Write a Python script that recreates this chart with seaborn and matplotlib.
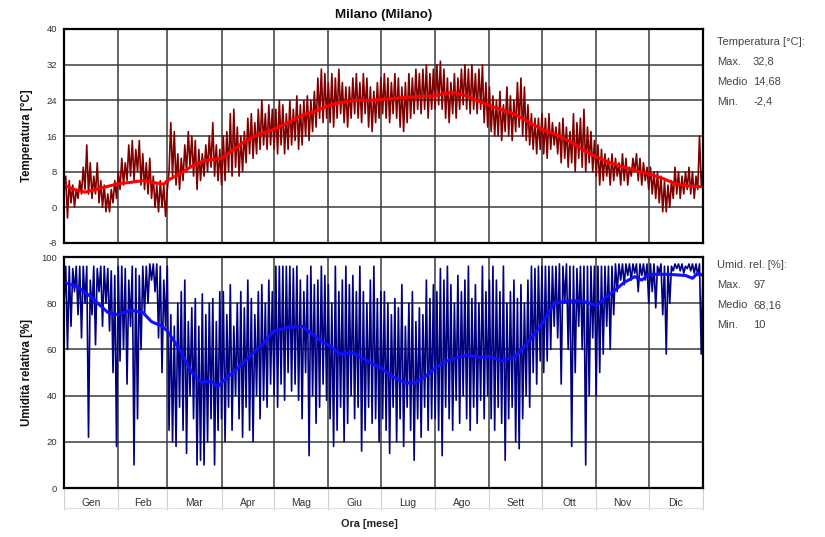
import numpy as np
import pandas as pd
import matplotlib
matplotlib.use("Agg")
import matplotlib.pyplot as plt
import seaborn as sns
from matplotlib.transforms import blended_transform_factory

# ---------------------------------------------------------------------------
# Data: Milano, hourly climate record summarised as alternating daily
# lows / highs (two days per pair) and the running mean of each quantity.
# ---------------------------------------------------------------------------
months = ["Gen", "Feb", "Mar", "Apr", "Mag", "Giu",
          "Lug", "Ago", "Sett", "Ott", "Nov", "Dic"]
month_start_day = [0, 31, 59, 90, 120, 151, 181, 212, 243, 273, 304, 334, 365]

# Temperature [°C]
t_low = [
    3, -2.4, 1, 0, 2, 3, 4, 3, 2, 3, 1, 0, -1, -1, 1, 2,            # Gen
    4, 5, 6, 7, 6, 8, 5, 4, 3, 2, 0, -1, 0, -2,                     # Feb
    8, 7, 5, 4, 6, 8, 9, 7, 4, 6, 7, 8, 9, 7, 6,                    # Mar
    5, 6, 8, 7, 9, 7, 8, 10, 12, 11, 12, 13, 14, 13, 14,            # Apr
    13, 12, 14, 12, 13, 14, 15, 13, 14, 16, 15, 17, 18, 20, 19, 20,  # Mag
    19, 18, 20, 21, 19, 18, 20, 21, 20, 19, 21, 18, 17, 19, 20,     # Giu
    21, 20, 19, 21, 20, 18, 17, 19, 20, 21, 22, 21, 22, 20, 22,     # Lug
    22, 23, 22, 20, 19, 21, 20, 22, 23, 22, 21, 22, 21, 22, 19, 18,  # Ago
    17, 16, 16, 15, 17, 16, 15, 17, 18, 16, 15, 14, 13, 12, 13,     # Sett
    12, 11, 13, 14, 12, 10, 11, 9, 10, 8, 11, 9, 8, 10, 8,          # Ott
    7, 5, 6, 7, 5, 6, 7, 5, 6, 5, 7, 8, 6, 5, 6,                    # Nov
    4, 3, 2, 1, -1, -1, 0, 2, 3, 2, 3, 4, 3, 2, 4, 5,               # Dic
]
t_high = [
    7, 6, 5, 4, 6, 9, 14, 10, 7, 10, 6, 5, 3, 4, 6, 8,
    11, 10, 14, 15, 13, 15, 12, 10, 11, 7, 5, 6, 5, 4,
    19, 17, 12, 11, 14, 17, 16, 15, 13, 12, 14, 16, 19, 14, 13,
    16, 17, 21, 22, 18, 16, 17, 20, 21, 19, 22, 24, 21, 23, 22,
    22, 24, 23, 21, 24, 22, 25, 23, 24, 25, 24, 26, 29, 31, 30, 28,
    30, 29, 31, 28, 27, 27, 29, 30, 28, 30, 29, 27, 26, 28, 29,
    30, 29, 28, 30, 29, 27, 28, 30, 29, 31, 30, 31, 32, 30, 31,
    32, 32.8, 31, 29, 28, 30, 29, 31, 32, 31, 32, 30, 31, 32, 28, 27,
    25, 24, 26, 23, 27, 25, 24, 28, 29, 27, 23, 21, 20, 20, 21,
    20, 21, 19, 18, 19, 20, 18, 17, 21, 19, 20, 22, 18, 17, 15,
    14, 13, 12, 11, 12, 11, 10, 12, 11, 9, 11, 12, 11, 10, 9,
    9, 8, 8, 7, 6, 5, 6, 9, 8, 7, 8, 9, 8, 7, 16, 9,
]
t_mean_day = [0, 6, 12, 20, 31, 38, 45, 52, 57, 59, 66, 73, 80, 90, 97, 104,
              112, 120, 128, 135, 143, 151, 158, 166, 174, 181, 190, 200, 212,
              218, 222, 230, 237, 243, 251, 258, 266, 273, 280, 288, 296, 304,
              312, 320, 327, 334, 342, 349, 356, 365]
t_mean = [5, 4, 3.4, 4.2, 5.3, 5.6, 6, 5.5, 5.2, 6, 7.5, 9.2, 10.5, 11, 13, 15,
          16.5, 17.5, 19, 20.5, 21.5, 22.8, 23.5, 24, 24, 24.2, 24.5, 24.8, 25,
          25.6, 25.8, 25, 23.8, 22.8, 21.8, 20.8, 19, 17.5, 16.5, 15, 13, 11.3,
          10, 9, 8.2, 7.5, 6.5, 5.3, 4.8, 4.6]

# Relative humidity [%]
rh_low = [
    80, 60, 70, 85, 75, 65, 80, 22, 75, 62, 85, 70, 80, 68, 50, 18,
    55, 60, 45, 70, 10, 30, 60, 75, 80, 90, 85, 65, 50, 70,
    25, 20, 18, 35, 25, 15, 40, 30, 10, 12, 10, 20, 30, 10, 25,
    30, 20, 35, 25, 40, 30, 22, 35, 25, 20, 40, 30, 38, 35, 45,
    40, 35, 45, 38, 50, 42, 45, 38, 30, 50, 14, 40, 28, 35, 45, 38,
    30, 18, 25, 35, 20, 28, 40, 30, 35, 16, 25, 35, 28, 30, 20,
    30, 25, 15, 35, 20, 30, 18, 35, 25, 12, 30, 22, 35, 25, 30,
    30, 25, 14, 35, 30, 25, 38, 28, 40, 30, 25, 35, 28, 38, 30, 40,
    30, 25, 35, 28, 12, 30, 35, 20, 17, 30, 40, 35, 50, 45, 55,
    50, 55, 60, 70, 65, 45, 80, 60, 18, 50, 70, 60, 10, 40, 65,
    40, 50, 58, 70, 60, 75, 85, 90, 88, 92, 90, 93, 85, 92, 90,
    80, 85, 78, 93, 75, 58, 80, 94, 95, 94, 93, 95, 94, 93, 92, 58,
]
rh_high = [
    96, 96, 95, 96, 96, 96, 96, 90, 96, 95, 96, 96, 95, 94, 92, 96,
    96, 95, 90, 96, 95, 92, 96, 96, 97, 97, 97, 96, 90, 96,
    75, 70, 80, 85, 90, 72, 78, 82, 70, 84, 75, 80, 82, 72, 85,
    85, 75, 88, 70, 80, 85, 78, 90, 82, 75, 85, 88, 80, 90, 85,
    96, 96, 96, 96, 96, 95, 96, 90, 85, 92, 96, 88, 90, 96, 92, 88,
    80, 96, 85, 90, 96, 88, 92, 85, 96, 85, 80, 90, 96, 82, 85,
    85, 80, 75, 82, 78, 88, 70, 80, 85, 72, 78, 75, 90, 82, 88,
    85, 95, 90, 96, 88, 80, 92, 85, 90, 96, 82, 88, 80, 96, 85, 90,
    96, 90, 85, 96, 80, 85, 90, 82, 88, 80, 90, 96, 95, 96, 96,
    96, 96, 96, 96, 97, 96, 97, 96, 96, 95, 96, 96, 96, 96, 96,
    96, 96, 96, 96, 96, 97, 97, 97, 97, 97, 97, 97, 97, 97, 97,
    97, 97, 96, 97, 96, 96, 96, 97, 97, 97, 96, 97, 97, 97, 97, 96,
]
rh_mean_day = [0, 8, 15, 25, 31, 38, 45, 50, 56, 59, 66, 73, 78, 84, 88, 90,
               98, 106, 113, 120, 128, 136, 143, 148, 151, 158, 165, 173, 181,
               188, 195, 200, 206, 212, 220, 230, 238, 243, 250, 258, 265, 273,
               280, 288, 296, 304, 312, 320, 326, 330, 334, 345, 355, 359, 362,
               365]
rh_mean = [89, 87, 83, 76, 75, 77, 76, 72, 70, 68, 60, 50, 46, 46, 44, 45.5,
           51, 57, 62, 68, 69.5, 70, 66, 63, 62, 58, 58.5, 55, 52, 48, 45.5,
           45.5, 48, 52, 55.5, 57.5, 56.5, 57, 55, 57, 63, 71, 80, 81, 81, 79,
           84, 89, 91.5, 90, 92.5, 92.5, 92, 90.8, 93, 92]

temp_stats = [("Max.", "32,8"), ("Medio", "14,68"), ("Min.", "-2,4")]
rh_stats = [("Max.", "97"), ("Medio", "68,16"), ("Min.", "10")]


def daily_swings(lows, highs):
    """Interleave lows and highs into one day-by-day series."""
    vals = np.empty(2 * len(lows))
    vals[0::2] = lows
    vals[1::2] = highs
    return pd.DataFrame({"day": np.arange(len(vals)), "value": vals})


temp_df = daily_swings(t_low, t_high)
rh_df = daily_swings(rh_low, rh_high)

# ---------------------------------------------------------------------------
sns.set_theme(style="white")
plt.rcParams["font.family"] = ["Liberation Sans", "DejaVu Sans"]
plt.rcParams["axes.unicode_minus"] = False

W, H = 825, 537
fig = plt.figure(figsize=(W / 100, H / 100), dpi=100)
fig.patch.set_facecolor("white")


def px_axes(left, top, right, bottom):
    return fig.add_axes([left / W, 1 - bottom / H, (right - left) / W, (bottom - top) / H])


ax_t = px_axes(64, 29, 703, 243)
ax_h = px_axes(64, 257, 703, 488)

sns.lineplot(data=temp_df, x="day", y="value", ax=ax_t, color="#800000",
             lw=1.2, estimator=None)
sns.lineplot(x=t_mean_day, y=t_mean, ax=ax_t, color="#ff0000", lw=2.2,
             estimator=None)

sns.lineplot(data=rh_df, x="day", y="value", ax=ax_h, color="#000080",
             lw=1.2, estimator=None)
sns.lineplot(x=rh_mean_day, y=rh_mean, ax=ax_h, color="#1010ff", lw=2.2,
             estimator=None)

month_mid = [(a + b) / 2 for a, b in zip(month_start_day[:-1], month_start_day[1:])]

for ax, ylim, step in ((ax_t, (-8, 40), 8), (ax_h, (0, 100), 20)):
    ax.set_xlim(0, 365)
    ax.set_ylim(*ylim)
    ax.set_yticks(np.arange(ylim[0], ylim[1] + 1, step))
    ax.set_xticks(month_start_day)
    ax.grid(True, which="major", color="#3a3a3a", lw=1.1)
    ax.set_axisbelow(True)
    for sp in ax.spines.values():
        sp.set_color("black")
        sp.set_linewidth(1.6)
    ax.tick_params(axis="y", length=0, pad=5, labelsize=6.8, labelcolor="#333333")
    ax.set_xlabel("")

ax_t.tick_params(axis="x", length=0, labelbottom=False)

# Month band under the humidity panel
ax_h.tick_params(axis="x", which="major", bottom=True, length=16, width=0.8,
                 color="#d0d0d0", direction="out", labelbottom=False)
ax_h.set_xticks(month_mid, minor=True)
ax_h.set_xticklabels(months, minor=True)
ax_h.tick_params(axis="x", which="minor", bottom=True, length=0, pad=7.5,
                 labelsize=7.4, labelcolor="#333333")
trans = blended_transform_factory(ax_h.transData, ax_h.transAxes)
ax_h.plot([0, 365], [-0.088, -0.088], transform=trans, color="#e0e0e0",
          lw=0.8, clip_on=False)

ax_t.set_ylabel("Temperatura [°C]", fontsize=8.3, fontweight="bold", color="#111111")
ax_h.set_ylabel("Umidità relativa [%]", fontsize=8.3, fontweight="bold", color="#111111")
ax_t.yaxis.set_label_coords(-0.048, 0.5)
ax_h.yaxis.set_label_coords(-0.048, 0.5)

fig.text(383.5 / W, 1 - 15 / H, "Milano (Milano)", ha="center", va="center",
         fontsize=9.6, fontweight="bold", color="#111111")
fig.text(369 / W, 1 - 524 / H, "Ora [mese]", ha="center", va="center",
         fontsize=7.8, fontweight="bold", color="#222222")


def stats_block(title, stats, y0):
    fig.text(717 / W, 1 - y0 / H, title, ha="left", va="center",
             fontsize=8.0, color="#444444")
    for i, (lab, val) in enumerate(stats):
        y = y0 + 20 * (i + 1)
        fig.text(717 / W, 1 - y / H, lab, ha="left", va="center",
                 fontsize=8.0, color="#444444")
        fig.text(753 / W, 1 - y / H, val, ha="left", va="center",
                 fontsize=8.0, color="#444444")


stats_block("Temperatura [°C]:", temp_stats, 42)
stats_block("Umid. rel. [%]:", rh_stats, 265)

fig.savefig("out.png", dpi=100, facecolor="white")
